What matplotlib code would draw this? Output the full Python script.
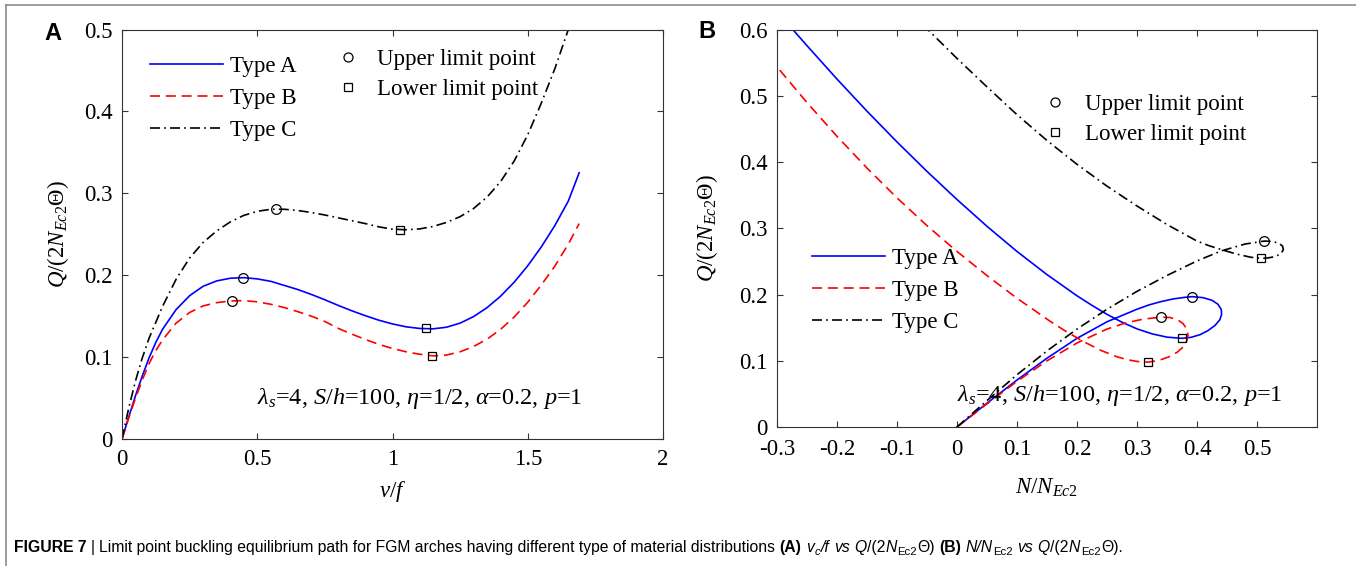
import matplotlib
matplotlib.use("Agg")
import matplotlib.pyplot as plt
from matplotlib import font_manager
from matplotlib.lines import Line2D

plt.rcParams["font.family"] = ["Liberation Serif", "DejaVu Serif"]
plt.rcParams["mathtext.fontset"] = "custom"
plt.rcParams["mathtext.rm"] = "Liberation Serif"
plt.rcParams["mathtext.it"] = "Liberation Serif:italic"
plt.rcParams["mathtext.bf"] = "Liberation Serif:bold"

# ---- data: panel A (v/f vs Q) ----
V_AB = [0, 0.025, 0.05, 0.075, 0.1, 0.125, 0.15, 0.2, 0.25, 0.3, 0.35, 0.4, 0.45, 0.5, 0.55,
        0.6, 0.65, 0.7, 0.75, 0.8, 0.85, 0.9, 0.95, 1.0, 1.05, 1.1, 1.15, 1.2, 1.25, 1.3,
        1.35, 1.4, 1.45, 1.5, 1.55, 1.6, 1.65, 1.69]
Q_TYPE_A = [0, 0.027, 0.053, 0.077, 0.099, 0.118, 0.134, 0.158, 0.175, 0.1865, 0.193, 0.1963,
            0.197, 0.1955, 0.1925, 0.1875, 0.1825, 0.1765, 0.170, 0.163, 0.1565, 0.1505,
            0.145, 0.1405, 0.137, 0.135, 0.1345, 0.1365, 0.1415, 0.1495, 0.1605, 0.1745,
            0.1915, 0.2115, 0.2345, 0.2605, 0.2905, 0.325]
Q_TYPE_B = [0, 0.026, 0.05, 0.072, 0.092, 0.108, 0.121, 0.1415, 0.1545, 0.1625, 0.1665,
            0.1685, 0.169, 0.1675, 0.1645, 0.1605, 0.1555, 0.15, 0.1435, 0.135, 0.128,
            0.1215, 0.1155, 0.1105, 0.1065, 0.1035, 0.1015, 0.1025, 0.1065, 0.113, 0.122,
            0.134, 0.149, 0.167, 0.188, 0.211, 0.238, 0.263]
V_C = [0, 0.025, 0.05, 0.075, 0.1, 0.15, 0.2, 0.25, 0.3, 0.35, 0.4, 0.45, 0.5, 0.55, 0.6,
       0.65, 0.7, 0.75, 0.8, 0.85, 0.9, 0.95, 1.0, 1.05, 1.1, 1.15, 1.2, 1.25, 1.3, 1.35,
       1.4, 1.45, 1.5, 1.55, 1.6, 1.65]
Q_TYPE_C = [0, 0.038, 0.071, 0.099, 0.123, 0.162, 0.195, 0.221, 0.24, 0.254, 0.265, 0.273,
            0.278, 0.2805, 0.2805, 0.279, 0.2765, 0.2735, 0.27, 0.2665, 0.263, 0.259,
            0.2562, 0.2555, 0.2565, 0.2595, 0.2645, 0.2715, 0.2815, 0.2955, 0.3145, 0.3395,
            0.3715, 0.41, 0.452, 0.5]
# limit points (v/f, Q) for types A, B, C
UPPER_A_V = [0.448, 0.408, 0.568]
UPPER_A_Q = [0.197, 0.168, 0.281]
LOWER_A_V = [1.125, 1.145, 1.028]
LOWER_A_Q = [0.135, 0.101, 0.255]

# ---- data: panel B (N/N_Ec2 vs Q), paths in load order ----
N_TYPE_A = [0, 0.05, 0.1, 0.15, 0.2, 0.25, 0.3, 0.32, 0.34, 0.36, 0.38, 0.392, 0.41, 0.425,
            0.435, 0.4405, 0.441, 0.438, 0.43, 0.418, 0.405, 0.39, 0.375, 0.35, 0.325, 0.3,
            0.275, 0.25, 0.225, 0.2, 0.15, 0.1, 0.05, 0.0, -0.05, -0.1, -0.15, -0.2, -0.25,
            -0.273]
QN_TYPE_A = [0, 0.036, 0.071, 0.104, 0.134, 0.159, 0.178, 0.1845, 0.1895, 0.1935, 0.196,
             0.197, 0.1955, 0.1915, 0.1855, 0.1775, 0.17, 0.162, 0.1535, 0.1455, 0.1395,
             0.1355, 0.134, 0.1358, 0.1408, 0.1483, 0.1583, 0.1703, 0.1838, 0.1983, 0.2303,
             0.2653, 0.3033, 0.3438, 0.3863, 0.4308, 0.4773, 0.5258, 0.5763, 0.6]
N_TYPE_B = [0, 0.05, 0.1, 0.15, 0.2, 0.25, 0.28, 0.31, 0.34, 0.355, 0.368, 0.377, 0.383,
            0.385, 0.383, 0.377, 0.367, 0.353, 0.336, 0.318, 0.3, 0.285, 0.267, 0.24, 0.21,
            0.18, 0.155, 0.1, 0.05, 0.0, -0.05, -0.1, -0.15, -0.2, -0.25, -0.3]
QN_TYPE_B = [0, 0.035, 0.069, 0.1, 0.127, 0.148, 0.157, 0.163, 0.166, 0.1655, 0.162, 0.156,
             0.148, 0.139, 0.13, 0.121, 0.113, 0.106, 0.1005, 0.098, 0.0991, 0.1015, 0.106,
             0.1157, 0.1295, 0.1454, 0.1599, 0.1946, 0.2288, 0.2653, 0.3043, 0.3463, 0.3913,
             0.4393, 0.4903, 0.5443]
N_TYPE_C = [0, 0.05, 0.1, 0.15, 0.2, 0.25, 0.3, 0.35, 0.4, 0.44, 0.48, 0.512, 0.525, 0.536,
            0.5425, 0.544, 0.54, 0.53, 0.518, 0.507, 0.49, 0.47, 0.45, 0.42, 0.4, 0.35, 0.3,
            0.25, 0.2, 0.15, 0.1, 0.05, 0.0, -0.048]
QN_TYPE_C = [0, 0.04, 0.079, 0.115, 0.148, 0.178, 0.205, 0.229, 0.251, 0.266, 0.2765, 0.281,
             0.2805, 0.278, 0.2735, 0.268, 0.262, 0.2575, 0.2555, 0.255, 0.2565, 0.2605,
             0.2655, 0.274, 0.281, 0.306, 0.334, 0.364, 0.397, 0.433, 0.472, 0.514, 0.557,
             0.6]
UPPER_B_N = [0.392, 0.34, 0.512]
UPPER_B_Q = [0.197, 0.166, 0.281]
LOWER_B_N = [0.375, 0.318, 0.507]
LOWER_B_Q = [0.135, 0.098, 0.255]

TYPE_LABELS = ["Type A", "Type B", "Type C"]
LIMIT_LABELS = ["Upper limit point", "Lower limit point"]
XTICKS_A = [0, 0.5, 1, 1.5, 2]
XTICKLABELS_A = ["0", "0.5", "1", "1.5", "2"]
YTICKS_A = [0, 0.1, 0.2, 0.3, 0.4, 0.5]
YTICKLABELS_A = ["0", "0.1", "0.2", "0.3", "0.4", "0.5"]
XTICKS_B = [-0.3, -0.2, -0.1, 0, 0.1, 0.2, 0.3, 0.4, 0.5]
XTICKLABELS_B = ["-0.3", "-0.2", "-0.1", "0", "0.1", "0.2", "0.3", "0.4", "0.5"]
YTICKS_B = [0, 0.1, 0.2, 0.3, 0.4, 0.5, 0.6]
YTICKLABELS_B = ["0", "0.1", "0.2", "0.3", "0.4", "0.5", "0.6"]

ANNOT = r"$\lambda_s$=4, $S/h$=100, $\eta$=1/2, $\alpha$=0.2, $p$=1"
YLABEL = r"$Q/(2N_{Ec2}\Theta)$"

FS = 16.5
W, H = 1356, 566
STYLES = [
    dict(color="#0000ff", ls="-"),
    dict(color="#ff0000", ls=(0, (6, 3.5))),
    dict(color="black", ls=(0, (6, 2.5, 1, 2.5))),
]


def has_font(name):
    try:
        font_manager.findfont(name, fallback_to_default=False)
        return True
    except ValueError:
        return False


def ax_rect(left, right, top, bottom):
    return [left / W, 1 - bottom / H, (right - left) / W, (bottom - top) / H]


def style_axes(ax):
    ax.tick_params(direction="in", top=True, right=True, length=4.5, width=0.8,
                   labelsize=FS, pad=7, color="#333333")
    for sp in ax.spines.values():
        sp.set_color("#333333")
        sp.set_linewidth(0.8)


def add_legends(ax, handles, anchor_types, anchor_limits):
    leg = ax.legend(handles, TYPE_LABELS, loc="upper left", bbox_to_anchor=anchor_types,
                    frameon=False, fontsize=FS, handlelength=3.2, handletextpad=0.3,
                    labelspacing=0.47, borderpad=0, borderaxespad=0)
    ax.add_artist(leg)
    up = Line2D([], [], ls="none", marker="o", ms=6.5, mfc="none", mec="black", mew=0.9)
    lo = Line2D([], [], ls="none", marker="s", ms=5.5, mfc="none", mec="black", mew=0.9)
    ax.legend([up, lo], LIMIT_LABELS, loc="upper left", bbox_to_anchor=anchor_limits,
              frameon=False, fontsize=FS, handlelength=1.0, handletextpad=0.8,
              labelspacing=0.38, borderpad=0, borderaxespad=0)


fig = plt.figure(figsize=(W / 100, H / 100), dpi=100)
axA = fig.add_axes(ax_rect(122, 663, 29.5, 439))
axB = fig.add_axes(ax_rect(777, 1317, 30, 427))

# panel A
hA = []
for xs, ys, st in zip([V_AB, V_AB, V_C], [Q_TYPE_A, Q_TYPE_B, Q_TYPE_C], STYLES):
    ln, = axA.plot(xs, ys, lw=1.2, **st)
    hA.append(ln)
axA.plot(UPPER_A_V, UPPER_A_Q, ls="none", marker="o", ms=7, mfc="none", mec="black", mew=0.9)
axA.plot(LOWER_A_V, LOWER_A_Q, ls="none", marker="s", ms=6, mfc="none", mec="black", mew=0.9)
axA.set_xlim(0, 2)
axA.set_ylim(0, 0.5)
axA.set_xticks(XTICKS_A, XTICKLABELS_A)
axA.set_yticks(YTICKS_A, YTICKLABELS_A)
style_axes(axA)
axA.set_xlabel(r"$v/f$", fontsize=FS, va="center")
axA.xaxis.set_label_coords(0.5, -0.128)
axA.set_ylabel(YLABEL, fontsize=FS, va="center")
axA.yaxis.set_label_coords(-0.118, 0.5)
axA.text(0.25, 0.086, ANNOT, transform=axA.transAxes, fontsize=17.5, va="baseline")
add_legends(axA, hA, (0.052, 0.935), (0.396, 0.952))

# panel B
hB = []
for xs, ys, st in zip([N_TYPE_A, N_TYPE_B, N_TYPE_C], [QN_TYPE_A, QN_TYPE_B, QN_TYPE_C], STYLES):
    ln, = axB.plot(xs, ys, lw=1.2, **st)
    hB.append(ln)
axB.plot(UPPER_B_N, UPPER_B_Q, ls="none", marker="o", ms=7, mfc="none", mec="black", mew=0.9)
axB.plot(LOWER_B_N, LOWER_B_Q, ls="none", marker="s", ms=6, mfc="none", mec="black", mew=0.9)
axB.set_xlim(-0.3, 0.6)
axB.set_ylim(0, 0.6)
axB.set_xticks(XTICKS_B, XTICKLABELS_B)
axB.set_yticks(YTICKS_B, YTICKLABELS_B)
style_axes(axB)
axB.tick_params(axis="x", pad=8.5)
axB.set_xlabel(r"$N/N_{Ec2}$", fontsize=FS, va="center")
axB.xaxis.set_label_coords(0.5, -0.154)
axB.set_ylabel(YLABEL, fontsize=FS, va="center")
axB.yaxis.set_label_coords(-0.13, 0.5)
axB.text(0.333, 0.066, ANNOT, transform=axB.transAxes, fontsize=17.5, va="baseline")
add_legends(axB, hB, (0.065, 0.451), (0.494, 0.838))

# panel letters
fig.text(53 / W, 1 - 34 / H, "A", family="Liberation Sans", weight="bold", fontsize=17,
         ha="center", va="center")
fig.text(707 / W, 1 - 31 / H, "B", family="Liberation Sans", weight="bold", fontsize=17,
         ha="center", va="center")

# outer frame (left and top edges)
fig.add_artist(Line2D([6 / W, 6 / W], [0, 1 - 5 / H], transform=fig.transFigure,
                      color="#8c8c8c", lw=1.2))
fig.add_artist(Line2D([6 / W, 1], [1 - 5 / H, 1 - 5 / H], transform=fig.transFigure,
                      color="#8c8c8c", lw=1.2))

# caption, laid out run by run
cap_font = "Liberation Sans Narrow" if has_font("Liberation Sans Narrow") else "Liberation Sans"
CAPTION = [
    ("FIGURE 7", "bold", "normal", False, True),
    ("|", "normal", "normal", False, True),
    ("Limit point buckling equilibrium path for FGM arches having different type of "
     "material distributions", "normal", "normal", False, True),
    ("(A)", "bold", "normal", False, True),
    ("v", "normal", "italic", False, False),
    ("c", "normal", "italic", True, False),
    ("/f", "normal", "italic", False, True),
    ("vs", "normal", "italic", False, True),
    ("Q", "normal", "italic", False, False),
    ("/(2", "normal", "normal", False, False),
    ("N", "normal", "italic", False, False),
    ("Ec2", "normal", "normal", True, False),
    ("\u0398)", "normal", "normal", False, True),
    ("(B)", "bold", "normal", False, True),
    ("N/N", "normal", "italic", False, False),
    ("Ec2", "normal", "normal", True, True),
    ("vs", "normal", "italic", False, True),
    ("Q", "normal", "italic", False, False),
    ("/(2", "normal", "normal", False, False),
    ("N", "normal", "italic", False, False),
    ("Ec2", "normal", "normal", True, False),
    ("\u0398).", "normal", "normal", False, False),
]


def layout_caption(size, draw):
    renderer = fig.canvas.get_renderer()
    x = 14.0
    y = 552.0
    probe = fig.text(0, 0, "a a", family=cap_font, fontsize=size)
    w1 = probe.get_window_extent(renderer).width
    probe.set_text("aa")
    space = w1 - probe.get_window_extent(renderer).width
    probe.remove()
    for text, weight, style, sub, gap in CAPTION:
        fs = size * 0.72 if sub else size
        dy = -size * 0.3 if sub else 0
        t = fig.text(x / W, 1 - (y - dy) / H, text, family=cap_font, fontsize=fs,
                     weight=weight, style=style, va="baseline")
        x += t.get_window_extent(renderer).width + (space if gap else 0.5)
        if not draw:
            t.remove()
    return x - 14.0


cap_size = 13.0
total = layout_caption(cap_size, draw=False)
layout_caption(cap_size * 1106.0 / total, draw=True)

fig.savefig("out.png", dpi=100)
